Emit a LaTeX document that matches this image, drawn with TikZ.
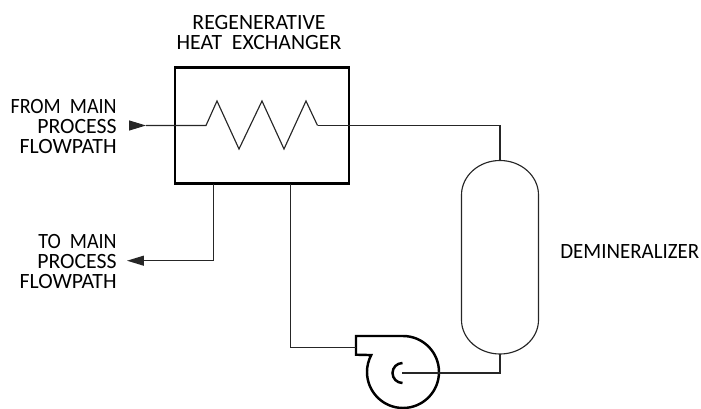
\documentclass[tikz,border=0pt]{standalone}
\usepackage{fontspec}
\setmainfont{Carlito}
\usetikzlibrary{arrows.meta}
\newcommand{\narrowtext}[2][0.92]{\scalebox{#1}[1]{#2}}
\tikzset{
  label/.style={inner sep=0pt,font=\fontsize{12.4}{11.5}\selectfont},
  thinline/.style={line width=0.65pt,black!85},
  thickline/.style={line width=1.4pt},
  flow/.style={thinline,-{Triangle[length=0.34cm,width=0.2cm]}}
}
\begin{document}
\begin{tikzpicture}[x=0.02cm,y=-0.02cm]
\useasboundingbox (0,0) rectangle (701,409);
\node[label,align=center] (hxlabel) at (259,32.5){REGENERATIVE\\HEAT\ \ EXCHANGER};
\node[label,align=right,anchor=east] (fromlabel) at (117,126.5){\narrowtext{FROM\ \ MAIN}\\PROCESS\\FLOWPATH};
\node[label,align=right,anchor=east] (tolabel) at (117,261.5){\narrowtext{TO\ \ MAIN}\\PROCESS\\FLOWPATH};
\node[label,anchor=west] (dmlabel) at (560,251.5){\narrowtext[0.96]{DEMINERALIZER}};
% heat exchanger
\node[draw,thickline,minimum width=3.48cm,minimum height=2.32cm,inner sep=0pt] (hx) at (262,125.5){};
\coordinate (in0) at (129,125.5);
\coordinate (in1) at (146,125.5);
\coordinate (coilin) at (206,125.5);
\coordinate (coilout) at (317.5,125.5);
\draw[flow](in0)--(in1);
\draw[thinline](in1)--(coilin)--(217,101)--(239,149)--(262,101)--(284,149)--(306,101)--(coilout);
% demineralizer
\coordinate (dmtop) at (500,160.5);
\coordinate (dmbot) at (500,354);
\draw[thinline](461.5,195) arc (180:270:38.5 and 34.5)--(dmtop) arc (-90:0:38.5 and 34.5)--(538.5,320) arc (0:90:38.5 and 34)--(dmbot) arc (90:180:38.5 and 34)--cycle;
\draw[thinline](coilout)-|(dmtop);
% pump
\coordinate (pumpin) at (356,347.7);
\coordinate (eye) at (402,373);
\draw[thickline](403,336)arc(-90:208:36)--(356,354.7)--(356,336)--cycle;
\draw[thickline](402.5,363)arc(-90:-270:10);
\draw[thinline](dmbot)|-(eye);
\coordinate (hxa) at (213.7,183.5);
\coordinate (hxb) at (290.7,183.5);
\coordinate (out1) at (127,260.7);
\draw[flow](hxa)|-(out1);
\draw[thinline](hxb)|-(pumpin);
\end{tikzpicture}
\end{document}
